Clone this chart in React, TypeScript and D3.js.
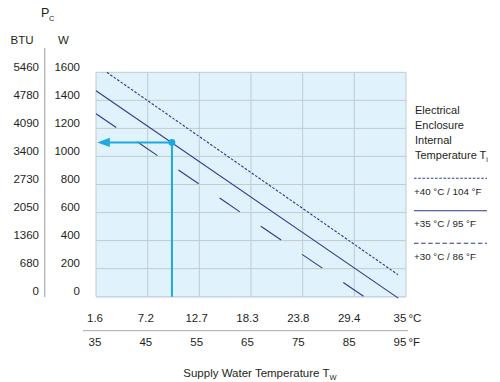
import React from "react";
import * as d3 from "d3";

// ---- data ----
const wattTicks = [0, 200, 400, 600, 800, 1000, 1200, 1400, 1600];
const btuLabels = ["0", "680", "1360", "2050", "2730", "3400", "4090", "4780", "5460"];
const fahrTicks = [35, 45, 55, 65, 75, 85, 95];
const celsiusLabels = ["1.6", "7.2", "12.7", "18.3", "23.8", "29.4", "35"];

// curves: [°F, W]
const curve40: [number, number][] = [[37.1, 1600], [93.45, 157]];
const curve35: [number, number][] = [[35, 1469], [93.5, -10]];
const curve30: [number, number][] = [[35, 1305], [86.9, 0]];

const operatingPoint = { f: 49.7, w: 1100 };

const legendItems = [
  { label: "+40 °C / 104 °F", dash: "2.6,1.6" },
  { label: "+35 °C / 95 °F", dash: "" },
  { label: "+30 °C / 86 °F", dash: "4.5,2.6" },
];

const NAVY = "#2c3a8c";
const CYAN = "#1ba9e1";
const GRID = "#c3cbd0";
const BG = "#e0f2fc";
const TEXT = "#231f20";
const FONT = "'Liberation Sans', Arial, Helvetica, sans-serif";

export default function App() {
  const x = d3.scaleLinear().domain([35, 95]).range([96, 406]);
  const y = d3.scaleLinear().domain([0, 1600]).range([296.7, 72.3]);
  const xLabel = d3.scaleLinear().domain([35, 95]).range([95, 400]);
  const line = d3
    .line<[number, number]>()
    .x((d) => x(d[0]))
    .y((d) => y(d[1]));

  const px = x(operatingPoint.f);
  const py = y(operatingPoint.w);
  const arrowTip = x(35) + 1.3;

  return (
    <svg
      width={500}
      height={382}
      style={{ position: "absolute", left: 0, top: 0, display: "block", background: "#fff" }}
      fontFamily={FONT}
    >
      {/* plot background */}
      <rect x={x(35)} y={y(1600)} width={x(95) - x(35)} height={y(0) - y(1600) + 1.5} fill={BG} />

      {/* grid */}
      {wattTicks.map((w) => (
        <line key={"h" + w} x1={x(35)} x2={x(95)} y1={y(w)} y2={y(w)} stroke={GRID} strokeWidth={1} />
      ))}
      {fahrTicks.map((f) => (
        <line key={"v" + f} x1={x(f)} x2={x(f)} y1={y(1600)} y2={y(0)} stroke={GRID} strokeWidth={1} />
      ))}

      {/* curves */}
      <path d={line(curve40) || ""} fill="none" stroke={NAVY} strokeWidth={1.1} strokeDasharray="2.6,1.6" />
      <path d={line(curve35) || ""} fill="none" stroke={NAVY} strokeWidth={1.1} />
      <path d={line(curve30) || ""} fill="none" stroke={NAVY} strokeWidth={1.1} strokeDasharray="24.5,25.4" />

      {/* operating point */}
      <line x1={px} x2={px} y1={py} y2={y(0)} stroke={CYAN} strokeWidth={2} />
      <line x1={px} x2={arrowTip + 11} y1={py} y2={py} stroke={CYAN} strokeWidth={2} />
      <path
        d={`M${arrowTip},${py} L${arrowTip + 12.5},${py - 4.6} L${arrowTip + 12.5},${py + 4.6} Z`}
        fill={CYAN}
      />
      <circle cx={px} cy={py} r={3.4} fill={CYAN} />

      {/* y axis header */}
      <text x={41} y={17} fontSize={12.5} fill={TEXT}>P</text>
      <text x={49} y={21} fontSize={7.5} fill={TEXT}>C</text>
      <text x={10.5} y={44} fontSize={11.5} fill={TEXT}>BTU</text>
      <text x={58} y={44} fontSize={11.5} fill={TEXT}>W</text>
      <line x1={44.7} x2={44.7} y1={48} y2={297} stroke="#b8b8b8" strokeWidth={1.4} />

      {/* y tick labels */}
      {wattTicks.map((w, i) => (
        <g key={"yl" + w}>
          <text x={39} y={y(w) - 1.5} fontSize={11.5} textAnchor="end" fill={TEXT}>
            {btuLabels[i]}
          </text>
          <text x={80} y={y(w) - 1.5} fontSize={11.5} textAnchor="end" fill={TEXT}>
            {w}
          </text>
        </g>
      ))}

      {/* x tick labels */}
      {fahrTicks.map((f, i) => {
        const last = i === fahrTicks.length - 1;
        return (
          <g key={"xl" + f}>
            <text x={xLabel(f)} y={322} fontSize={11.5} textAnchor="middle" fill={TEXT}>
              {celsiusLabels[i]}
            </text>
            <text x={xLabel(f)} y={346} fontSize={11.5} textAnchor="middle" fill={TEXT}>
              {f}
            </text>
            {last && (
              <>
                <text x={xLabel(f) + 8.5} y={322} fontSize={11.5} fill={TEXT}>°C</text>
                <text x={xLabel(f) + 8.5} y={346} fontSize={11.5} fill={TEXT}>°F</text>
              </>
            )}
          </g>
        );
      })}
      <line x1={83} x2={408} y1={330.7} y2={330.7} stroke="#a9a9a9" strokeWidth={1} />

      {/* x title */}
      <text x={183.3} y={377} fontSize={11.5} fill={TEXT}>
        Supply Water Temperature T
        <tspan dy={3} fontSize={7.5}>W</tspan>
      </text>

      {/* legend */}
      <g fontSize={11} fill={TEXT}>
        <text x={415} y={114}>Electrical</text>
        <text x={415} y={129}>Enclosure</text>
        <text x={415} y={144}>Internal</text>
        <text x={415} y={159}>
          Temperature T
          <tspan dy={3} fontSize={7}>i</tspan>
        </text>
      </g>
      {legendItems.map((item, i) => {
        const ly = 178.3 + i * 32.5;
        return (
          <g key={"lg" + i}>
            <line
              x1={414}
              x2={487}
              y1={ly}
              y2={ly}
              stroke={NAVY}
              strokeWidth={1.1}
              strokeDasharray={item.dash || undefined}
            />
            <text x={414} y={ly + 16.5} fontSize={9.8} fill={TEXT}>
              {item.label}
            </text>
          </g>
        );
      })}
    </svg>
  );
}
